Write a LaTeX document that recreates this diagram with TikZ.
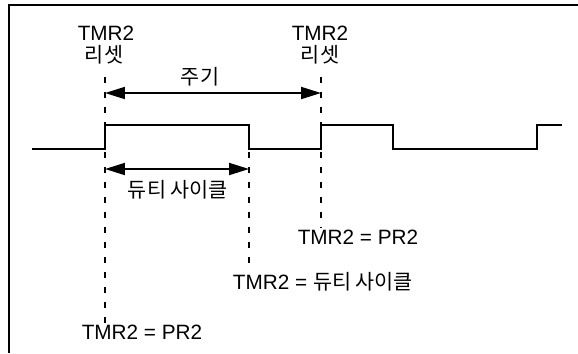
\documentclass[tikz,border=0pt]{standalone}
\usepackage{fontspec}
\setmainfont{Liberation Sans}
\newfontfamily\kr{Noto Sans CJK KR}
\usetikzlibrary{arrows.meta}

\begin{document}
\begin{tikzpicture}[x=0.02cm, y=-0.02cm, >={Triangle[length=0.4cm,width=0.24cm]},
  every node/.style={font=\fontsize{11.8pt}{14pt}\selectfont, inner sep=1pt},
  krtext/.style={font=\kr\fontsize{11.8pt}{14pt}\selectfont},
  guide/.style={line width=1.1pt, dash pattern=on 0.12cm off 0.18cm},
  wave/.style={line width=1.1pt}]
\useasboundingbox (0,0) rectangle (578,353);
\draw[line width=1.4pt] (9,353) -- (9,5) -- (578,5);

\node (tmrA) at (106,33){TMR2};
\node[krtext] (rstA) at (104,55){리셋};
\node (tmrB) at (320,33){TMR2};
\node[krtext] (rstB) at (320,55){리셋};

\node[krtext] (period) at (200,77){주기};
\node[krtext] (duty) at (178,190){듀티 사이클};

\node (pr2a) at (358,237){TMR2 = PR2};
\node (dutyb) at (323,282){TMR2 = {\kr 듀티 사이클}};
\node (pr2b) at (142,332){TMR2 = PR2};

\coordinate (lineA) at (105,77);
\coordinate (lineB) at (321,77);
\coordinate (lineC) at (249,152);
\coordinate (perL) at (105,93);
\coordinate (perR) at (321,93);
\coordinate (dutyL) at (105,169);
\coordinate (dutyR) at (249,169);

% pulse train
\draw[wave] (32,149) -- (105,149) -- (105,125) -- (249,125) -- (249,149)
  -- (321,149) -- (321,125) -- (393,125) -- (393,149) -- (537,149)
  -- (537,125) -- (562,125);

\draw[guide] (lineA) -- (lineA |- pr2b.north);
\draw[guide] (lineB) -- (lineB |- pr2a.north);
\draw[guide] (lineC) -- (lineC |- dutyb.north);

\draw[<->, line width=1.1pt] (perL) -- (perR);
\draw[<->, line width=1.1pt] (dutyL) -- (dutyR);
\end{tikzpicture}
\end{document}
